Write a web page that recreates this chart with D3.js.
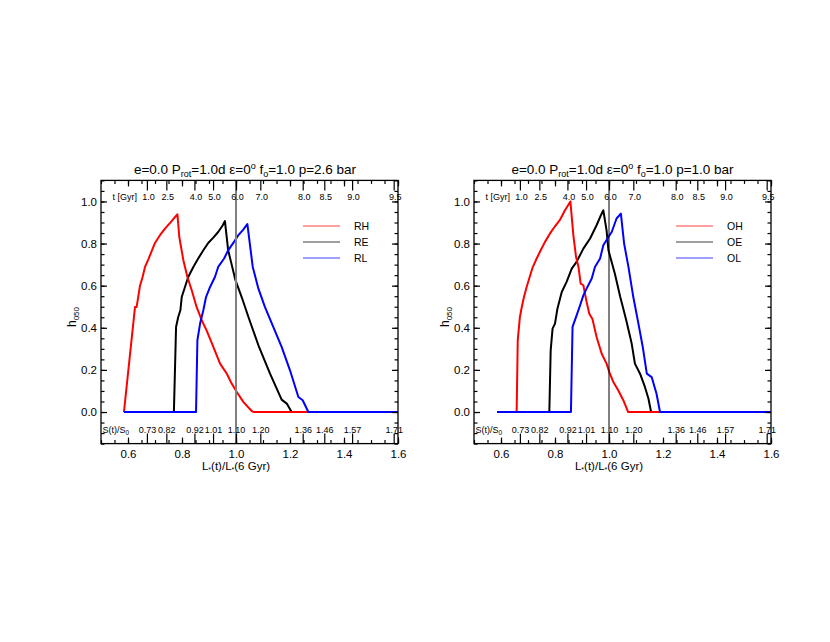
<!DOCTYPE html>
<html>
<head>
<meta charset="utf-8">
<script src="https://cdn.jsdelivr.net/npm/d3@7"></script>
<style>
  html, body { margin: 0; padding: 0; background: #fff; }
  svg { display: block; font-family: "Liberation Sans", Arial, Helvetica, sans-serif; }
</style>
</head>
<body>
<svg id="chart" width="830" height="642"></svg>
<script>
// ---------------- data ----------------
const xMajorTicks = [0.6, 0.8, 1.0, 1.2, 1.4, 1.6];
const yMajorTicks = [0.0, 0.2, 0.4, 0.6, 0.8, 1.0];
const ageTickPos = [0.67, 0.742, 0.846, 0.915, 1.0, 1.09, 1.247, 1.327, 1.43, 1.584];
const ageLabels = ["1.0", "2.5", "4.0", "5.0", "6.0", "7.0", "8.0", "8.5", "9.0", "9.5"];
const fluxLabels = ["0.73", "0.82", "0.92", "1.01", "1.10", "1.20", "1.36", "1.46", "1.57", "1.71"];

// left panel (p = 2.6 bar)
const RH_x = [0.585, 0.626, 0.632, 0.644, 0.654, 0.663, 0.675, 0.688, 0.700, 0.719, 0.737, 0.756, 0.774, 0.783, 0.790, 0.805, 0.820, 0.836, 0.854, 0.873, 0.891, 0.916, 0.941, 0.966, 0.984, 1.003, 1.027, 1.058, 1.064, 1.6];
const RH_y = [0, 0.499, 0.499, 0.597, 0.641, 0.689, 0.724, 0.765, 0.803, 0.841, 0.871, 0.898, 0.926, 0.939, 0.831, 0.721, 0.641, 0.578, 0.499, 0.436, 0.388, 0.309, 0.230, 0.182, 0.135, 0.095, 0.048, 0.005, 0, 0];
const RE_x = [0.585, 0.770, 0.778, 0.786, 0.794, 0.799, 0.811, 0.823, 0.842, 0.860, 0.879, 0.897, 0.916, 0.934, 0.951, 0.959, 0.971, 0.984, 0.998, 1.021, 1.046, 1.083, 1.126, 1.169, 1.188, 1.206, 1.6];
const RE_y = [0, 0, 0.404, 0.451, 0.483, 0.546, 0.594, 0.641, 0.689, 0.729, 0.768, 0.803, 0.828, 0.855, 0.887, 0.907, 0.768, 0.700, 0.626, 0.546, 0.451, 0.317, 0.182, 0.059, 0.040, 0, 0];
const RL_x = [0.585, 0.852, 0.857, 0.867, 0.879, 0.889, 0.904, 0.922, 0.934, 0.956, 0.971, 0.990, 1.008, 1.027, 1.042, 1.062, 1.083, 1.107, 1.138, 1.169, 1.200, 1.231, 1.247, 1.268, 1.6];
const RL_y = [0, 0, 0.341, 0.420, 0.483, 0.546, 0.594, 0.641, 0.689, 0.729, 0.768, 0.803, 0.839, 0.866, 0.893, 0.689, 0.586, 0.499, 0.404, 0.309, 0.198, 0.071, 0.056, 0, 0];

// right panel (p = 1.0 bar)
const OH_x = [0.586, 0.658, 0.662, 0.670, 0.677, 0.685, 0.695, 0.707, 0.717, 0.732, 0.747, 0.763, 0.781, 0.800, 0.819, 0.837, 0.857, 0.868, 0.878, 0.887, 0.895, 0.905, 0.917, 0.927, 0.939, 0.954, 0.973, 0.991, 1.001, 1.016, 1.034, 1.053, 1.071, 1.6];
const OH_y = [0, 0, 0.341, 0.451, 0.499, 0.546, 0.594, 0.645, 0.686, 0.729, 0.768, 0.808, 0.847, 0.882, 0.914, 0.958, 1.0, 0.839, 0.736, 0.689, 0.610, 0.602, 0.523, 0.467, 0.440, 0.356, 0.277, 0.230, 0.190, 0.143, 0.103, 0.056, 0, 0];
const OE_x = [0.586, 0.779, 0.784, 0.791, 0.800, 0.809, 0.825, 0.843, 0.862, 0.880, 0.905, 0.930, 0.954, 0.967, 0.979, 0.991, 0.998, 1.022, 1.041, 1.053, 1.065, 1.084, 1.096, 1.115, 1.133, 1.146, 1.156, 1.6];
const OE_y = [0, 0, 0.293, 0.396, 0.420, 0.491, 0.570, 0.618, 0.681, 0.713, 0.776, 0.824, 0.887, 0.926, 0.958, 0.863, 0.768, 0.655, 0.550, 0.491, 0.430, 0.325, 0.230, 0.182, 0.119, 0.064, 0, 0];
const OL_x = [0.586, 0.859, 0.865, 0.880, 0.893, 0.905, 0.917, 0.936, 0.948, 0.967, 0.979, 0.998, 1.010, 1.028, 1.044, 1.056, 1.072, 1.090, 1.109, 1.125, 1.140, 1.158, 1.176, 1.189, 1.6];
const OL_y = [0, 0, 0.404, 0.459, 0.507, 0.554, 0.586, 0.634, 0.689, 0.729, 0.792, 0.831, 0.855, 0.919, 0.942, 0.800, 0.689, 0.546, 0.420, 0.309, 0.182, 0.166, 0.087, 0, 0];

const seriesNamesLeft = ["RH", "RE", "RL"];
const seriesNamesRight = ["OH", "OE", "OL"];
const seriesColors = ["#ff0000", "#000000", "#0000ff"];

// ---------------- drawing ----------------
const svg = d3.select("#chart");
const zip = (xs, ys) => xs.map((x, i) => [x, ys[i]]);

function panel(opts) {
  const L = opts.left, R = opts.left + 297, T = 180.4, B = 443.6;
  const x = d3.scaleLinear().domain([0.5, 1.6]).range([L, R]);
  const y = d3.scaleLinear().domain([-0.15, 1.1]).range([B, T]);
  const g = svg.append("g");

  const minorX = d3.range(0.5, 1.6001, 0.05);
  const minorY = d3.range(-0.15, 1.1001, 0.05);

  // curves: black, red, blue (blue on top)
  const line = d3.line().x(d => x(d[0])).y(d => y(d[1]));
  const order = [1, 0, 2];
  order.forEach(i => {
    g.append("path").datum(opts.series[i])
      .attr("fill", "none").attr("stroke", seriesColors[i])
      .attr("stroke-width", 2).attr("stroke-linejoin", "round")
      .attr("d", line);
  });

  // vertical reference line at x = 1
  g.append("line")
    .attr("x1", x(1.0)).attr("x2", x(1.0)).attr("y1", T).attr("y2", B)
    .attr("stroke", opts.refColor).attr("stroke-width", opts.refWidth);

  const styleAxis = sel => {
    sel.select(".domain").remove();
    sel.selectAll(".tick line").attr("stroke", "#000").attr("stroke-width", 1.2);
  };

  // bottom axis
  g.append("g").attr("transform", `translate(0,${B})`)
    .call(d3.axisBottom(x).tickValues(minorX).tickSize(-3.5).tickFormat(""))
    .call(styleAxis);
  g.append("g").attr("transform", `translate(0,${B})`)
    .call(d3.axisBottom(x).tickValues(xMajorTicks).tickSize(-6).tickPadding(6.5).tickFormat(d3.format(".1f")))
    .call(styleAxis)
    .call(s => s.selectAll("text").attr("font-size", 11.5).attr("fill", "#000").attr("font-family", "Liberation Sans, Arial, sans-serif"));
  g.append("g").attr("transform", `translate(0,${B})`)
    .call(d3.axisBottom(x).tickValues(ageTickPos).tickSize(-10).tickFormat(""))
    .call(styleAxis);

  // top axis
  g.append("g").attr("transform", `translate(0,${T})`)
    .call(d3.axisTop(x).tickValues(minorX).tickSize(-3.5).tickFormat(""))
    .call(styleAxis);
  g.append("g").attr("transform", `translate(0,${T})`)
    .call(d3.axisTop(x).tickValues(xMajorTicks).tickSize(-6).tickFormat(""))
    .call(styleAxis);
  g.append("g").attr("transform", `translate(0,${T})`)
    .call(d3.axisTop(x).tickValues(ageTickPos).tickSize(-10).tickFormat(""))
    .call(styleAxis);

  // left axis
  g.append("g").attr("transform", `translate(${L},0)`)
    .call(d3.axisLeft(y).tickValues(minorY).tickSize(-3.5).tickFormat(""))
    .call(styleAxis);
  g.append("g").attr("transform", `translate(${L},0)`)
    .call(d3.axisLeft(y).tickValues(yMajorTicks).tickSize(-6).tickPadding(4).tickFormat(d3.format(".1f")))
    .call(styleAxis)
    .call(s => s.selectAll("text").attr("font-size", 11.5).attr("fill", "#000").attr("font-family", "Liberation Sans, Arial, sans-serif"));

  // right axis
  g.append("g").attr("transform", `translate(${R},0)`)
    .call(d3.axisRight(y).tickValues(minorY).tickSize(-3.5).tickFormat(""))
    .call(styleAxis);
  g.append("g").attr("transform", `translate(${R},0)`)
    .call(d3.axisRight(y).tickValues(yMajorTicks).tickSize(-6).tickFormat(""))
    .call(styleAxis);

  // frame
  g.append("rect").attr("x", L).attr("y", T).attr("width", R - L).attr("height", B - T)
    .attr("fill", "none").attr("stroke", "#000").attr("stroke-width", 1.3);

  // age labels (inside, top)
  g.append("text").attr("x", L + 11.5).attr("y", T + 20).attr("font-size", 9).text("t [Gyr]");
  g.selectAll(".agelab").data(ageTickPos).enter().append("text")
    .attr("x", d => x(d) + 1.5).attr("y", T + 20).attr("font-size", 9)
    .attr("text-anchor", "middle").text((d, i) => ageLabels[i]);

  // flux labels (inside, bottom)
  const st = g.append("text").attr("x", L + 1.5).attr("y", B - 10.5).attr("font-size", 9);
  st.append("tspan").text("S(t)/S");
  st.append("tspan").attr("font-size", 6.5).attr("dy", 2).text("0");
  g.selectAll(".fluxlab").data(ageTickPos).enter().append("text")
    .attr("x", d => x(d) + 0.5).attr("y", B - 10.5).attr("font-size", 9)
    .attr("text-anchor", "middle").text((d, i) => fluxLabels[i]);

  // x axis title
  const xt = g.append("text").attr("x", x(1.0)).attr("y", 469.5).attr("font-size", 11.5)
    .attr("text-anchor", "middle");
  xt.append("tspan").text("L");
  xt.append("tspan").attr("font-size", 7).attr("dy", 2).text("*");
  xt.append("tspan").attr("dy", -2).text("(t)/L");
  xt.append("tspan").attr("font-size", 7).attr("dy", 2).text("*");
  xt.append("tspan").attr("dy", -2).text("(6 Gyr)");

  // y axis title
  const yt = g.append("text").attr("transform", `translate(${L - 25},317) rotate(-90)`)
    .attr("font-size", 12).attr("text-anchor", "middle");
  yt.append("tspan").text("h");
  yt.append("tspan").attr("font-size", 8).attr("dy", 3).text("050");

  // title
  const tt = g.append("text").attr("x", opts.titleX).attr("y", 174).attr("font-size", 13.5)
    .attr("text-anchor", "middle");
  tt.append("tspan").text("e=0.0 P");
  tt.append("tspan").attr("font-size", 9).attr("dy", 3).text("rot");
  tt.append("tspan").attr("dy", -3).text("=1.0d \u03b5=0");
  tt.append("tspan").attr("font-size", 9).attr("dy", -5).text("o");
  tt.append("tspan").attr("dy", 5).text(" f");
  tt.append("tspan").attr("font-size", 9).attr("dy", 3).text("o");
  tt.append("tspan").attr("dy", -3).text("=1.0 p=" + opts.pressure + " bar");

  // legend
  const lx = L + 202;
  opts.names.forEach((nm, i) => {
    const ly = 226 + i * 16;
    g.append("line").attr("x1", lx).attr("x2", lx + 37).attr("y1", ly).attr("y2", ly)
      .attr("stroke", seriesColors[i]).attr("stroke-width", 1.2).attr("opacity", 0.75);
    g.append("text").attr("x", lx + 51).attr("y", ly + 4).attr("font-size", 10.5).text(nm);
  });
}

panel({
  left: 101, titleX: 245, pressure: "2.6",
  refColor: "#808080", refWidth: 2,
  names: seriesNamesLeft,
  series: [zip(RH_x, RH_y), zip(RE_x, RE_y), zip(RL_x, RL_y)]
});
panel({
  left: 474, titleX: 622.5, pressure: "1.0",
  refColor: "#000000", refWidth: 1,
  names: seriesNamesRight,
  series: [zip(OH_x, OH_y), zip(OE_x, OE_y), zip(OL_x, OL_y)]
});
</script>
</body>
</html>
